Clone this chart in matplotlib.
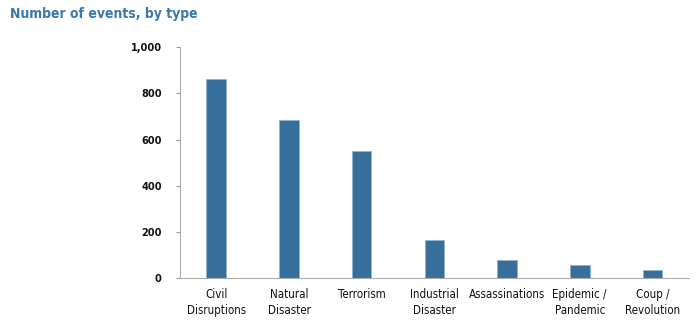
import matplotlib
matplotlib.use("Agg")
import matplotlib.pyplot as plt
from matplotlib.ticker import FuncFormatter

categories = ["Civil\nDisruptions", "Natural\nDisaster", "Terrorism", "Industrial\nDisaster",
              "Assassinations", "Epidemic /\nPandemic", "Coup /\nRevolution"]
events = [860, 686, 551, 167, 80, 57, 33]

plt.rcParams["font.family"] = ["DejaVu Sans"]
plt.rcParams["font.stretch"] = "condensed"

fig = plt.figure(figsize=(7, 3.23), dpi=100)
ax = fig.add_axes([0.257, 0.139, 0.727, 0.715])

ax.bar(range(len(events)), events, width=0.27, color="#366f9b",
       edgecolor="#8fb2cf", linewidth=0.5)

ax.set_xlim(-0.5, 6.5)
ax.set_ylim(0, 1000)
ax.set_yticks([0, 200, 400, 600, 800, 1000])
ax.yaxis.set_major_formatter(FuncFormatter(lambda v, p: f"{int(v):,}"))
ax.set_xticks(range(len(events)))
ax.set_xticklabels(categories, fontsize=8.3, linespacing=1.35, color="#111111",
                   stretch="condensed")
ax.tick_params(axis="x", length=0, pad=7)
ax.tick_params(axis="y", length=3, color="#999999", labelsize=7.8, pad=10)
for lbl in ax.get_yticklabels():
    lbl.set_fontweight("bold")
    lbl.set_fontstretch("condensed")
    lbl.set_color("#111111")

for side in ["top", "right"]:
    ax.spines[side].set_visible(False)
ax.spines["left"].set_color("#aaaaaa")
ax.spines["bottom"].set_color("#aaaaaa")

fig.text(0.014, 0.958, "Number of events, by type", fontsize=10, fontweight="bold",
         color="#3a78ad", stretch="condensed", va="center")

fig.savefig("out.png", dpi=100)
